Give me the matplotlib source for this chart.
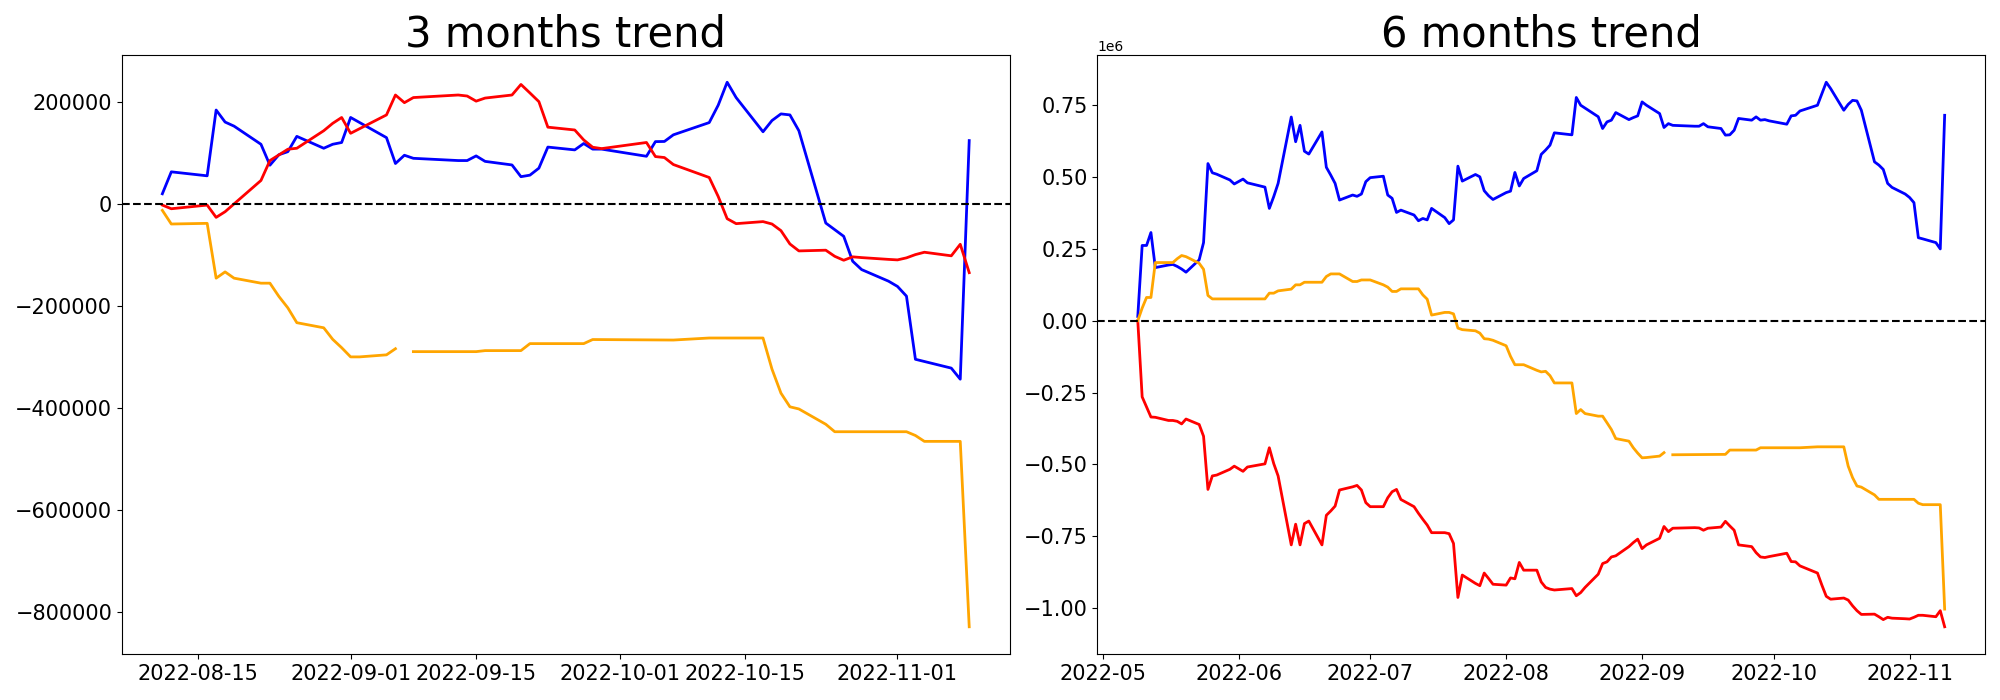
import numpy as np
import pandas as pd
import matplotlib
matplotlib.use('Agg')  # no display
import matplotlib.pyplot as plt
import matplotlib.dates as mdates

NaN = np.nan
YEAR = "2022-"

# --- 3 months window: cumulative values (date MM-DD, value) ---
short_blue = [
    ("08-11", 19500), ("08-12", 62500), ("08-16", 54700), ("08-17", 183600),
    ("08-18", 160000), ("08-19", 152000), ("08-22", 116500), ("08-23", 75500),
    ("08-24", 96000), ("08-25", 102000), ("08-26", 132000), ("08-29", 108700),
    ("08-30", 116500), ("08-31", 120000), ("09-01", 169000), ("09-05", 129500),
    ("09-06", 78800), ("09-07", 95000), ("09-08", 89000), ("09-13", 84600),
    ("09-14", 84600), ("09-15", 93700), ("09-16", 83000), ("09-19", 76000),
    ("09-20", 53000), ("09-21", 56000), ("09-22", 69700), ("09-23", 111000),
    ("09-26", 105500), ("09-27", 118000), ("09-28", 107000), ("09-29", 107000),
    ("10-04", 93000), ("10-05", 121700), ("10-06", 122000), ("10-07", 135000),
    ("10-11", 159000), ("10-12", 193000), ("10-13", 238000), ("10-14", 208000),
    ("10-17", 141000), ("10-18", 163000), ("10-19", 176000), ("10-20", 174000),
    ("10-21", 143000), ("10-24", -37800), ("10-26", -63800), ("10-27", -112600),
    ("10-28", -129000), ("10-31", -151700), ("11-01", -162000), ("11-02", -181000),
    ("11-03", -304700), ("11-07", -322000), ("11-08", -343700), ("11-09", 123700),
]
short_red = [
    ("08-11", -2600), ("08-12", -9800), ("08-16", -2600), ("08-17", -26700),
    ("08-18", -15600), ("08-22", 45600), ("08-23", 84600), ("08-24", 95700),
    ("08-25", 106800), ("08-26", 108700), ("08-29", 143000), ("08-30", 157500),
    ("08-31", 169000), ("09-01", 138000), ("09-05", 174000), ("09-06", 213000),
    ("09-07", 198000), ("09-08", 208000), ("09-13", 213000), ("09-14", 211000),
    ("09-15", 201000), ("09-16", 207000), ("09-19", 213000), ("09-20", 233700),
    ("09-21", 217000), ("09-22", 200000), ("09-23", 150000), ("09-26", 144500),
    ("09-27", 125000), ("09-28", 110700), ("09-29", 108000), ("10-04", 120000),
    ("10-05", 92400), ("10-06", 90500), ("10-07", 76800), ("10-11", 51400),
    ("10-12", 14300), ("10-13", -29300), ("10-14", -39000), ("10-17", -35000),
    ("10-18", -39700), ("10-19", -52700), ("10-20", -78800), ("10-21", -92400),
    ("10-24", -91000), ("10-25", -103000), ("10-26", -110700), ("10-27", -104000),
    ("10-28", -105500), ("10-31", -109000), ("11-01", -110000), ("11-02", -106000),
    ("11-03", -99600), ("11-04", -95000), ("11-07", -102000), ("11-08", -79400),
    ("11-09", -135000),
]
short_orange = [
    ("08-11", -13000), ("08-12", -39700), ("08-16", -38400), ("08-17", -145800),
    ("08-18", -133500), ("08-19", -145800), ("08-22", -155600), ("08-23", -155600),
    ("08-24", -181600), ("08-25", -204000), ("08-26", -233000), ("08-29", -243000),
    ("08-30", -265600), ("08-31", -282000), ("09-01", -300000), ("09-02", -300000),
    ("09-05", -296000), ("09-06", -284000), ("09-07", NaN), ("09-08", -289700),
    ("09-15", -289700), ("09-16", -287700), ("09-20", -287700), ("09-21", -274000),
    ("09-27", -274000), ("09-28", -266000), ("10-07", -267000), ("10-11", -263000),
    ("10-17", -263000), ("10-18", -324000), ("10-19", -371000), ("10-20", -397800),
    ("10-21", -402000), ("10-24", -432000), ("10-25", -446600), ("11-02", -446600),
    ("11-03", -454000), ("11-04", -465500), ("11-08", -465500), ("11-09", -828700),
]

# --- 6 months window: cumulative values in millions ---
long_blue = [
    ("05-09", 0.015), ("05-10", 0.262), ("05-11", 0.262), ("05-12", 0.307),
    ("05-13", 0.185), ("05-16", 0.194), ("05-17", 0.196), ("05-18", 0.189),
    ("05-19", 0.180), ("05-20", 0.169), ("05-23", 0.212), ("05-24", 0.272),
    ("05-25", 0.547), ("05-26", 0.515), ("05-27", 0.510), ("05-30", 0.490),
    ("05-31", 0.476), ("06-02", 0.493), ("06-03", 0.480), ("06-07", 0.465),
    ("06-08", 0.391), ("06-09", 0.432), ("06-10", 0.478), ("06-13", 0.709),
    ("06-14", 0.623), ("06-15", 0.680), ("06-16", 0.590), ("06-17", 0.580),
    ("06-20", 0.657), ("06-21", 0.534), ("06-22", 0.507), ("06-23", 0.478),
    ("06-24", 0.420), ("06-27", 0.4375), ("06-28", 0.433), ("06-29", 0.441),
    ("06-30", 0.484), ("07-01", 0.498), ("07-04", 0.503), ("07-05", 0.4375),
    ("07-06", 0.426), ("07-07", 0.377), ("07-08", 0.385), ("07-11", 0.368),
    ("07-12", 0.348), ("07-13", 0.356), ("07-14", 0.351), ("07-15", 0.391),
    ("07-18", 0.359), ("07-19", 0.338), ("07-20", 0.351), ("07-21", 0.538),
    ("07-22", 0.486), ("07-25", 0.509), ("07-26", 0.501), ("07-27", 0.4525),
    ("07-28", 0.435), ("07-29", 0.422), ("08-01", 0.446), ("08-02", 0.451),
    ("08-03", 0.516), ("08-04", 0.469), ("08-05", 0.495), ("08-08", 0.522),
    ("08-09", 0.579), ("08-10", 0.594), ("08-11", 0.611), ("08-12", 0.654),
    ("08-16", 0.647), ("08-17", 0.777), ("08-18", 0.750), ("08-19", 0.740),
    ("08-22", 0.710), ("08-23", 0.669), ("08-24", 0.692), ("08-25", 0.698),
    ("08-26", 0.7245), ("08-29", 0.700), ("08-30", 0.707), ("08-31", 0.713),
    ("09-01", 0.7616), ("09-02", 0.750), ("09-05", 0.721), ("09-06", 0.6725),
    ("09-07", 0.686), ("09-08", 0.680), ("09-13", 0.677), ("09-14", 0.677),
    ("09-15", 0.686), ("09-16", 0.675), ("09-19", 0.669), ("09-20", 0.646),
    ("09-21", 0.647), ("09-22", 0.663), ("09-23", 0.704), ("09-26", 0.698),
    ("09-27", 0.7095), ("09-28", 0.698), ("09-29", 0.700), ("09-30", 0.6956),
    ("10-04", 0.684), ("10-05", 0.713), ("10-06", 0.715), ("10-07", 0.730),
    ("10-11", 0.750), ("10-12", 0.790), ("10-13", 0.830), ("10-14", 0.808),
    ("10-17", 0.7326), ("10-18", 0.753), ("10-19", 0.767), ("10-20", 0.765),
    ("10-21", 0.7326), ("10-24", 0.553), ("10-25", 0.5417), ("10-26", 0.5266),
    ("10-27", 0.478), ("10-28", 0.464), ("10-31", 0.441), ("11-01", 0.429),
    ("11-02", 0.411), ("11-03", 0.289), ("11-04", 0.285), ("11-07", 0.272),
    ("11-08", 0.250), ("11-09", 0.715),
]
long_red = [
    ("05-09", 0.0), ("05-10", -0.265), ("05-12", -0.335), ("05-13", -0.336),
    ("05-16", -0.347), ("05-17", -0.347), ("05-18", -0.350), ("05-19", -0.359),
    ("05-20", -0.342), ("05-23", -0.361), ("05-24", -0.402), ("05-25", -0.587),
    ("05-26", -0.540), ("05-27", -0.537), ("05-30", -0.517), ("05-31", -0.506),
    ("06-02", -0.524), ("06-03", -0.509), ("06-07", -0.498), ("06-08", -0.442),
    ("06-09", -0.497), ("06-10", -0.540), ("06-13", -0.780), ("06-14", -0.708),
    ("06-15", -0.780), ("06-16", -0.706), ("06-17", -0.697), ("06-20", -0.780),
    ("06-21", -0.677), ("06-22", -0.662), ("06-23", -0.645), ("06-24", -0.589),
    ("06-27", -0.578), ("06-28", -0.573), ("06-29", -0.589), ("06-30", -0.633),
    ("07-01", -0.647), ("07-04", -0.647), ("07-05", -0.616), ("07-06", -0.595),
    ("07-07", -0.587), ("07-08", -0.622), ("07-11", -0.647), ("07-12", -0.670),
    ("07-13", -0.691), ("07-14", -0.711), ("07-15", -0.7375), ("07-18", -0.7375),
    ("07-19", -0.741), ("07-20", -0.775), ("07-21", -0.963), ("07-22", -0.885),
    ("07-25", -0.914), ("07-26", -0.922), ("07-27", -0.878), ("07-28", -0.897),
    ("07-29", -0.917), ("08-01", -0.920), ("08-02", -0.895), ("08-03", -0.898),
    ("08-04", -0.841), ("08-05", -0.868), ("08-08", -0.868), ("08-09", -0.909),
    ("08-10", -0.928), ("08-11", -0.934), ("08-12", -0.937), ("08-16", -0.932),
    ("08-17", -0.957), ("08-18", -0.946), ("08-19", -0.928), ("08-22", -0.882),
    ("08-23", -0.845), ("08-24", -0.839), ("08-25", -0.822), ("08-26", -0.818),
    ("08-29", -0.786), ("08-30", -0.772), ("08-31", -0.760), ("09-01", -0.793),
    ("09-02", -0.780), ("09-05", -0.757), ("09-06", -0.716), ("09-07", -0.734),
    ("09-08", -0.722), ("09-13", -0.720), ("09-14", -0.721), ("09-15", -0.729),
    ("09-16", -0.722), ("09-19", -0.718), ("09-20", -0.698), ("09-21", -0.714),
    ("09-22", -0.729), ("09-23", -0.780), ("09-26", -0.786), ("09-27", -0.807),
    ("09-28", -0.822), ("09-29", -0.824), ("09-30", -0.8206), ("10-04", -0.809),
    ("10-05", -0.838), ("10-06", -0.839), ("10-07", -0.853), ("10-11", -0.878),
    ("10-12", -0.920), ("10-13", -0.959), ("10-14", -0.969), ("10-17", -0.965),
    ("10-18", -0.972), ("10-19", -0.992), ("10-20", -1.009), ("10-21", -1.022),
    ("10-24", -1.021), ("10-25", -1.030), ("10-26", -1.040), ("10-27", -1.032),
    ("10-28", -1.035), ("10-31", -1.037), ("11-01", -1.038), ("11-02", -1.032),
    ("11-03", -1.025), ("11-04", -1.025), ("11-07", -1.030), ("11-08", -1.009),
    ("11-09", -1.065),
]
long_orange = [
    ("05-09", 0.0), ("05-10", 0.044), ("05-11", 0.081), ("05-12", 0.081),
    ("05-13", 0.2025), ("05-17", 0.2025), ("05-18", 0.216), ("05-19", 0.227),
    ("05-20", 0.223), ("05-23", 0.200), ("05-24", 0.179), ("05-25", 0.088),
    ("05-26", 0.076), ("06-07", 0.076), ("06-08", 0.096), ("06-09", 0.096),
    ("06-10", 0.104), ("06-13", 0.110), ("06-14", 0.125), ("06-15", 0.125),
    ("06-16", 0.134), ("06-20", 0.134), ("06-21", 0.154), ("06-22", 0.163),
    ("06-24", 0.163), ("06-27", 0.1366), ("06-28", 0.1366), ("06-29", 0.142),
    ("07-01", 0.142), ("07-04", 0.125), ("07-05", 0.117), ("07-06", 0.102),
    ("07-07", 0.102), ("07-08", 0.111), ("07-12", 0.111), ("07-13", 0.090),
    ("07-14", 0.075), ("07-15", 0.0197), ("07-18", 0.029), ("07-19", 0.029),
    ("07-20", 0.024), ("07-21", -0.0255), ("07-22", -0.031), ("07-25", -0.035),
    ("07-26", -0.043), ("07-27", -0.0625), ("07-28", -0.064), ("07-29", -0.068),
    ("08-01", -0.087), ("08-02", -0.124), ("08-03", -0.153), ("08-05", -0.153),
    ("08-08", -0.1725), ("08-09", -0.178), ("08-10", -0.176), ("08-11", -0.191),
    ("08-12", -0.2164), ("08-16", -0.2164), ("08-17", -0.323), ("08-18", -0.309),
    ("08-19", -0.323), ("08-22", -0.332), ("08-23", -0.332), ("08-24", -0.355),
    ("08-25", -0.3785), ("08-26", -0.410), ("08-29", -0.419), ("08-30", -0.442),
    ("08-31", -0.4606), ("09-01", -0.477), ("09-02", -0.476), ("09-05", -0.471),
    ("09-06", -0.459), ("09-07", NaN), ("09-08", -0.4664), ("09-20", -0.465),
    ("09-21", -0.450), ("09-27", -0.450), ("09-28", -0.442), ("10-07", -0.442),
    ("10-11", -0.4387), ("10-17", -0.4387), ("10-18", -0.5058), ("10-19", -0.546),
    ("10-20", -0.575), ("10-21", -0.579), ("10-24", -0.606), ("10-25", -0.6215),
    ("11-02", -0.6215), ("11-03", -0.635), ("11-04", -0.640), ("11-08", -0.640),
    ("11-09", -1.0035),
]

SERIES_COLORS = ["blue", "red", "orange"]


def _to_series(pairs, scale=1.0):
    dates = pd.to_datetime([YEAR + d for d, _ in pairs])
    values = np.array([v for _, v in pairs], dtype=float) * scale
    return dates, values


def _draw_panel(ax, series, title, scale, locator, fmt):
    for pairs, color in zip(series, SERIES_COLORS):
        x, y = _to_series(pairs, scale)
        ax.plot(x, y, color=color, linewidth=2)
    ax.axhline(y=0, color='black', linestyle='--', linewidth=1.5)
    ax.set_title(title, fontsize=30)
    ax.xaxis.set_major_locator(locator)
    ax.xaxis.set_major_formatter(mdates.DateFormatter(fmt))
    ax.tick_params(labelsize=15)


fig, (ax1, ax2) = plt.subplots(1, 2, figsize=(20, 7), dpi=100)
_draw_panel(ax1, [short_blue, short_red, short_orange], "3 months trend", 1.0,
            mdates.DayLocator(bymonthday=[1, 15]), "%Y-%m-%d")
_draw_panel(ax2, [long_blue, long_red, long_orange], "6 months trend", 1e6,
            mdates.MonthLocator(), "%Y-%m")

fig.subplots_adjust(left=0.061, right=0.9925, bottom=0.0657, top=0.9214, wspace=0.099)
plt.savefig("out.png", dpi=100)
plt.close(fig)
